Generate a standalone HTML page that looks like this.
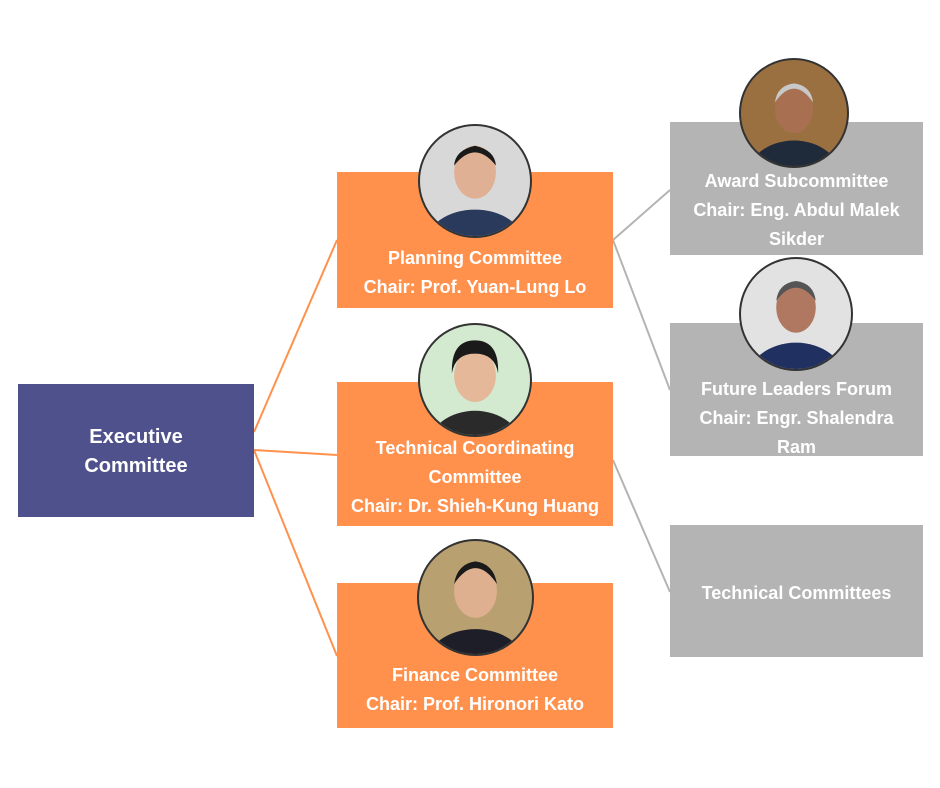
<!DOCTYPE html>
<html><head><style>
body{margin:0;width:940px;height:788px;background:#fff;position:relative;overflow:hidden;font-family:"Liberation Sans",sans-serif}
.b{position:absolute;color:#fff;font-weight:bold;text-align:center;font-size:18px;line-height:29px;box-sizing:border-box}
.o{background:#ff914d}.g{background:#b4b4b4}
.c{position:absolute;border-radius:50%;border:2px solid #333;box-sizing:border-box;overflow:hidden}
.c svg{position:absolute;left:0;top:0;width:100%;height:100%}
</style></head><body>
<svg width="940" height="788" style="position:absolute;left:0;top:0">
<g stroke="#ff914d" stroke-width="2" fill="none">
<line x1="254" y1="432" x2="337" y2="240"/>
<line x1="254" y1="450" x2="337" y2="455"/>
<line x1="254" y1="450" x2="337" y2="656"/>
</g>
<g stroke="#b4b4b4" stroke-width="2" fill="none">
<line x1="613" y1="240" x2="670" y2="190"/>
<line x1="613" y1="240" x2="670" y2="390"/>
<line x1="613" y1="460" x2="670" y2="592"/>
</g>
</svg>
<div class="b" style="left:18px;top:384px;width:236px;height:133px;background:#4f518c;padding-top:39px;font-size:20px">Executive<br>Committee</div>
<div class="b o" style="left:337px;top:172px;width:276px;height:136px;padding-top:72px">Planning Committee<br>Chair: Prof. Yuan-Lung Lo</div>
<div class="b o" style="left:337px;top:382px;width:276px;height:144px;padding-top:52px">Technical Coordinating<br>Committee<br>Chair: Dr. Shieh-Kung Huang</div>
<div class="b o" style="left:337px;top:583px;width:276px;height:145px;padding-top:78px">Finance Committee<br>Chair: Prof. Hironori Kato</div>
<div class="b g" style="left:670px;top:122px;width:253px;height:133px;padding-top:45px">Award Subcommittee<br>Chair: Eng. Abdul Malek<br>Sikder</div>
<div class="b g" style="left:670px;top:323px;width:253px;height:133px;padding-top:52px">Future Leaders Forum<br>Chair: Engr. Shalendra<br>Ram</div>
<div class="b g" style="left:670px;top:525px;width:253px;height:132px;padding-top:54px">Technical Committees</div>

<div class="c" style="left:418px;top:124px;width:114px;height:114px;background:#d8d8d8"><svg viewBox="0 0 100 100"><ellipse cx="50" cy="108" rx="45" ry="32" fill="#2a3a5c"/><ellipse cx="50" cy="42" rx="19" ry="24" fill="#e0b094"/><path d="M31 36 Q50 12 69 36 Q68 22 50 18 Q32 22 31 36Z" fill="#1a1a1a"/></svg></div>
<div class="c" style="left:418px;top:323px;width:114px;height:114px;background:#d4ead0"><svg viewBox="0 0 100 100"><ellipse cx="50" cy="110" rx="42" ry="32" fill="#2a2a2a"/><ellipse cx="50" cy="46" rx="19" ry="24" fill="#e4b898"/><path d="M29 44 Q28 14 50 14 Q72 14 71 44 Q68 26 50 26 Q32 26 29 44Z" fill="#1a1a1a"/></svg></div>
<div class="c" style="left:417px;top:539px;width:117px;height:117px;background:#b8a070"><svg viewBox="0 0 100 100"><ellipse cx="50" cy="110" rx="44" ry="32" fill="#1e1e28"/><ellipse cx="50" cy="44" rx="19" ry="24" fill="#deb090"/><path d="M31 38 Q50 10 69 38 Q66 20 50 18 Q34 20 31 38Z" fill="#1a1a1a"/></svg></div>
<div class="c" style="left:739px;top:58px;width:110px;height:110px;background:#9a7040"><svg viewBox="0 0 100 100"><ellipse cx="50" cy="110" rx="44" ry="34" fill="#1f2a3a"/><ellipse cx="50" cy="46" rx="18" ry="23" fill="#a87050"/><path d="M32 40 Q50 14 68 40 Q66 24 50 22 Q34 24 32 40Z" fill="#c8c8c8"/></svg></div>
<div class="c" style="left:739px;top:257px;width:114px;height:114px;background:#e2e2e2"><svg viewBox="0 0 100 100"><ellipse cx="50" cy="110" rx="44" ry="34" fill="#203060"/><ellipse cx="50" cy="44" rx="18" ry="23" fill="#b07860"/><path d="M32 38 Q50 14 68 38 Q66 22 50 20 Q34 22 32 38Z" fill="#555"/></svg></div>
</body></html>
